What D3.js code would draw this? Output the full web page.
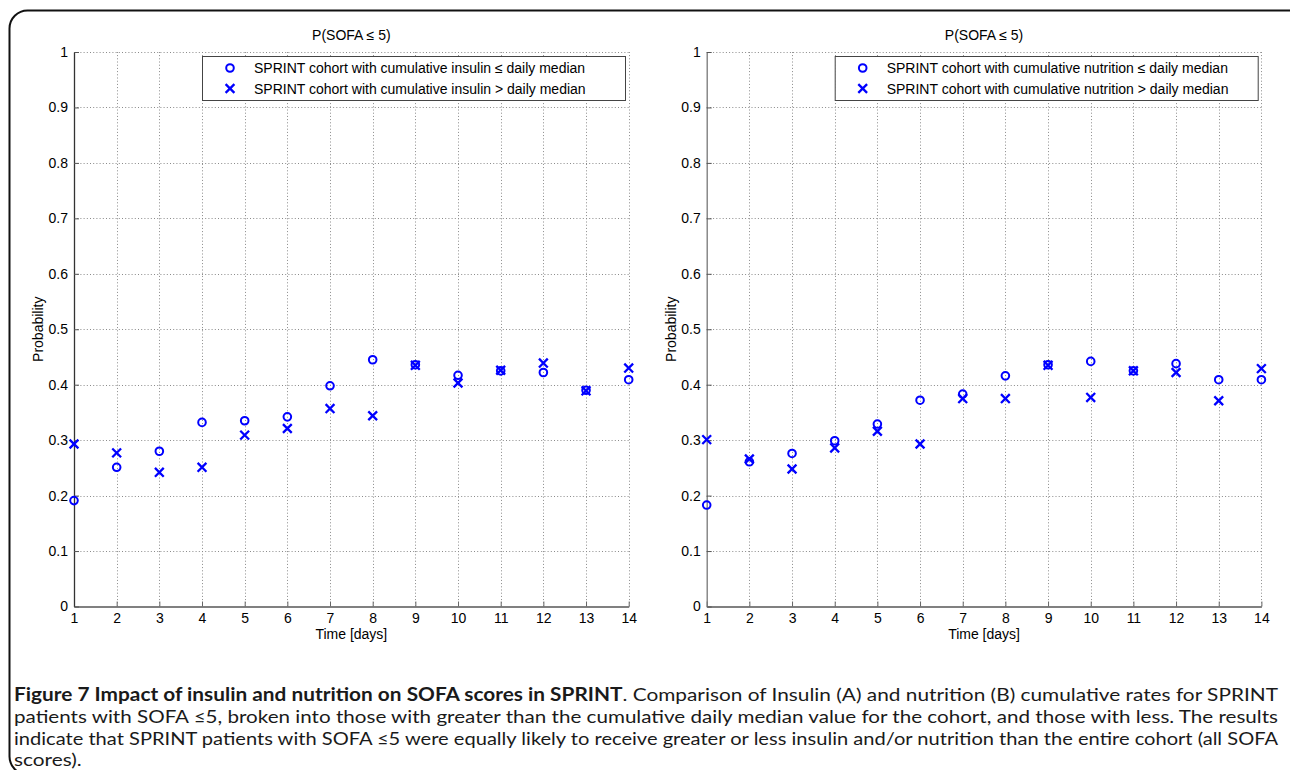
<!DOCTYPE html>
<html>
<head>
<meta charset="utf-8">
<script src="https://cdn.jsdelivr.net/npm/d3@7"></script>
<style>
  html, body { margin: 0; padding: 0; background: #fff; }
  svg { display: block; }
  .lbl { font-family: "Liberation Sans", Arial, Helvetica, sans-serif; fill: #000; }
  .cap { font-family: Lato, "Open Sans", sans-serif; fill: #1a1a1a; }
</style>
</head>
<body>
<svg id="chart" width="1290" height="770"></svg>
<script>
// ---------------- data ----------------
const days = [1,2,3,4,5,6,7,8,9,10,11,12,13,14];
const xTickLabels = ["1","2","3","4","5","6","7","8","9","10","11","12","13","14"];
const yTicks = [0,0.1,0.2,0.3,0.4,0.5,0.6,0.7,0.8,0.9,1];
const yTickLabels = ["0","0.1","0.2","0.3","0.4","0.5","0.6","0.7","0.8","0.9","1"];

// Panel A: insulin
const insulinLow  = [0.191,0.251,0.280,0.332,0.335,0.342,0.398,0.445,0.436,0.417,0.425,0.422,0.390,0.409];
const insulinHigh = [0.293,0.277,0.242,0.251,0.309,0.321,0.357,0.344,0.435,0.403,0.426,0.439,0.389,0.430];
// Panel B: nutrition
const nutritionLow  = [0.183,0.261,0.276,0.299,0.329,0.372,0.383,0.416,0.436,0.442,0.425,0.438,0.409,0.409];
const nutritionHigh = [0.301,0.266,0.248,0.286,0.316,0.293,0.375,0.375,0.435,0.377,0.425,0.422,0.371,0.429];

const panelTitles = ["P(SOFA \u2264 5)", "P(SOFA \u2264 5)"];
const legendLow  = ["SPRINT cohort with cumulative insulin \u2264 daily median",
                    "SPRINT cohort with cumulative nutrition \u2264 daily median"];
const legendHigh = ["SPRINT cohort with cumulative insulin > daily median",
                    "SPRINT cohort with cumulative nutrition > daily median"];
const xAxisTitle = "Time [days]";
const yAxisTitle = "Probability";

const captionBold = "Figure 7 Impact of insulin and nutrition on SOFA scores in SPRINT";
const captionLines = [
  ". Comparison of Insulin (A) and nutrition (B) cumulative rates for SPRINT",
  "patients with SOFA \u22645, broken into those with greater than the cumulative daily median value for the cohort, and those with less. The results",
  "indicate that SPRINT patients with SOFA \u22645 were equally likely to receive greater or less insulin and/or nutrition than the entire cohort (all SOFA",
  "scores)."
];

// ---------------- layout ----------------
const svg = d3.select("#chart");
const BLUE = "#0000ff";

// outer rounded frame
svg.append("rect")
  .attr("x", 9.5).attr("y", 10.5)
  .attr("width", 1300).attr("height", 764)
  .attr("rx", 18).attr("ry", 18)
  .attr("fill", "none").attr("stroke", "#111").attr("stroke-width", 2);

const panels = [
  { left: 74,    right: 628.7,  low: insulinLow,   high: insulinHigh,   axisColor: "#333" },
  { left: 706.7, right: 1261.4, low: nutritionLow, high: nutritionHigh, axisColor: "#777" }
];
const yBottom = 606.5, yTop = 52;

panels.forEach((p, pi) => {
  const x = d3.scaleLinear().domain([1, 14]).range([p.left, p.right]);
  const y = d3.scaleLinear().domain([0, 1]).range([yBottom, yTop]);
  const g = svg.append("g");

  // grid
  const grid = g.append("g").attr("stroke", "#8a8a8a").attr("stroke-width", 1)
    .attr("stroke-dasharray", "1,2.2").attr("fill", "none");
  grid.selectAll("line.v").data(days.filter(d => d !== 1)).join("line")
    .attr("class", "v")
    .attr("x1", d => Math.round(x(d)) + 0.5).attr("x2", d => Math.round(x(d)) + 0.5)
    .attr("y1", y(0)).attr("y2", y(1));
  grid.selectAll("line.h").data(yTicks.filter(d => d !== 0)).join("line")
    .attr("class", "h")
    .attr("x1", x(1)).attr("x2", x(14))
    .attr("y1", d => Math.round(y(d)) + 0.5).attr("y2", d => Math.round(y(d)) + 0.5);

  // axes
  const xAxis = d3.axisBottom(x).tickValues(days)
    .tickFormat((d, i) => xTickLabels[i]).tickSizeInner(-5).tickSizeOuter(0).tickPadding(7);
  const gx = g.append("g").attr("transform", `translate(0,${yBottom})`).call(xAxis);
  gx.select(".domain").attr("stroke", "#808080").attr("stroke-width", 2);
  gx.selectAll(".tick line").attr("stroke", "#666");
  gx.selectAll(".tick text").attr("class", "lbl").attr("font-size", 14).attr("fill", "#000");

  const yAxis = d3.axisLeft(y).tickValues(yTicks)
    .tickFormat((d, i) => yTickLabels[i]).tickSizeInner(-5).tickSizeOuter(0).tickPadding(6);
  const gy = g.append("g").attr("transform", `translate(${p.left},0)`).call(yAxis);
  gy.select(".domain").attr("stroke", p.axisColor).attr("stroke-width", 1.3);
  gy.selectAll(".tick line").attr("stroke", "#555");
  gy.selectAll(".tick text").attr("class", "lbl").attr("font-size", 14).attr("fill", "#000");

  // titles
  const cx = (p.left + p.right) / 2;
  g.append("text").attr("class", "lbl").attr("font-size", 14)
    .attr("x", cx).attr("y", 40).attr("text-anchor", "middle").text(panelTitles[pi]);
  g.append("text").attr("class", "lbl").attr("font-size", 14)
    .attr("x", cx).attr("y", 639).attr("text-anchor", "middle").text(xAxisTitle);
  g.append("text").attr("class", "lbl").attr("font-size", 14)
    .attr("transform", `translate(${p.left - 31},${(yTop + yBottom) / 2}) rotate(-90)`)
    .attr("text-anchor", "middle").text(yAxisTitle);

  // markers
  const r = 3.8, a = 4.4;
  g.append("g").selectAll("circle").data(p.low).join("circle")
    .attr("cx", (d, i) => x(days[i])).attr("cy", d => y(d)).attr("r", r)
    .attr("fill", "none").attr("stroke", BLUE).attr("stroke-width", 2);
  const cross = (sel) => sel.attr("d", "M" + (-a) + "," + (-a) + "L" + a + "," + a + "M" + (-a) + "," + a + "L" + a + "," + (-a))
    .attr("fill", "none").attr("stroke", BLUE).attr("stroke-width", 2.3);
  g.append("g").selectAll("path").data(p.high).join("path")
    .attr("transform", (d, i) => `translate(${x(days[i])},${y(d)})`).call(cross);

  // legend
  const lx = p.left + 128, ly = 56.5, lw = p.right - 3.7 - lx, lh = 44;
  const lg = g.append("g");
  lg.append("rect").attr("x", lx + 0.5).attr("y", ly).attr("width", lw).attr("height", lh)
    .attr("fill", "#fff").attr("stroke", "#444").attr("stroke-width", 1);
  const mx = lx + 28;
  lg.append("circle").attr("cx", mx).attr("cy", 68).attr("r", r)
    .attr("fill", "none").attr("stroke", BLUE).attr("stroke-width", 2);
  lg.append("path").attr("transform", `translate(${mx},88.5)`).call(cross);
  lg.append("text").attr("class", "lbl").attr("font-size", 14)
    .attr("x", lx + 52).attr("y", 73).text(legendLow[pi]);
  lg.append("text").attr("class", "lbl").attr("font-size", 14)
    .attr("x", lx + 52).attr("y", 93.5).text(legendHigh[pi]);
});

// ---------------- caption ----------------
const capX = 14, capW = 1264, capSize = 18;
const baselines = [701, 723, 745, 766];
const capTexts = [];
captionLines.forEach((line, i) => {
  const t = svg.append("text").attr("class", "cap").attr("font-size", capSize)
    .attr("x", capX).attr("y", baselines[i]);
  if (i === 0) {
    t.append("tspan").attr("font-weight", 700).text(captionBold);
    t.append("tspan").text(line);
  } else {
    t.text(line);
  }
  capTexts.push(t);
});
const natural0 = capTexts[0].node().getComputedTextLength();
const factor = capW / natural0;
capTexts.forEach((t, i) => {
  const nat = t.node().getComputedTextLength();
  const target = i < 3 ? capW : nat * factor;
  t.attr("textLength", target).attr("lengthAdjust", "spacingAndGlyphs");
});
</script>
</body>
</html>
